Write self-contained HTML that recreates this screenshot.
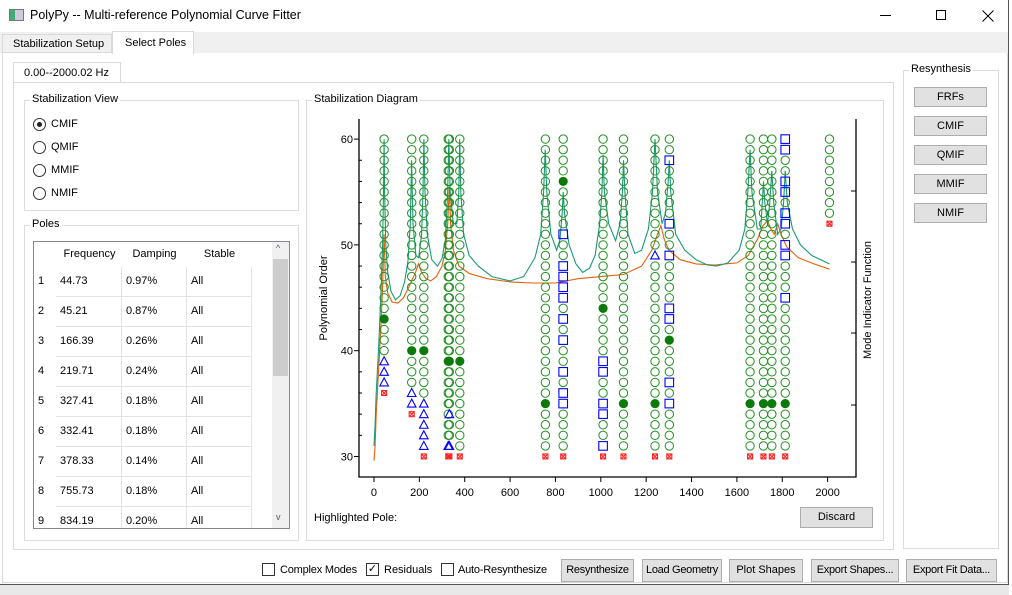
<!DOCTYPE html>
<html><head><meta charset="utf-8">
<style>
*{box-sizing:border-box}
body{margin:0;width:1012px;height:595px;overflow:hidden;background:#fff;font-family:"Liberation Sans",sans-serif;font-size:11px;color:#000;position:relative}
.a{position:absolute;white-space:nowrap}
.grp{position:absolute;border:1px solid #dcdcdc}
.gt{position:absolute;background:#fff;padding:0 2px;top:-8px;left:5px;font-size:11px}
.btn{position:absolute;background:#e1e1e1;border:1px solid #adadad;text-align:center;font-size:11px;line-height:19px;white-space:nowrap;overflow:hidden}
.rad{position:absolute;width:13px;height:13px;border:1px solid #333;border-radius:50%;background:#fff}
.chk{position:absolute;width:13px;height:13px;border:1px solid #333;background:#fff}
.cell{position:absolute;height:30px;line-height:29px;padding-left:4px;border-right:1px solid #e3e3e3;border-bottom:1px solid #e3e3e3}
</style></head><body>
<div class="a" style="left:0;top:0;width:1012px;height:32px;background:#fff">
 <div class="a" style="left:9px;top:9px;width:15px;height:12px;border:1px solid #777;background:linear-gradient(90deg,#4a7 0 40%,#ccd 40%)"></div>
 <div class="a" style="left:30px;top:8px;font-size:12.5px">PolyPy -- Multi-reference Polynomial Curve Fitter</div>
 <div class="a" style="left:880px;top:15px;width:11px;height:1px;background:#000"></div>
 <div class="a" style="left:936px;top:10px;width:10px;height:10px;border:1px solid #000"></div>
 <svg class="a" style="left:982px;top:10px" width="12" height="12"><path d="M0.5,0.5L11.5,11.5M11.5,0.5L0.5,11.5" stroke="#000" stroke-width="1"/></svg>
</div>
<div class="a" style="left:0;top:32px;width:1012px;height:21px;background:#f0f0f0"></div>
<div class="a" style="left:2px;top:34px;width:110px;height:19px;border:1px solid #d9d9d9;background:#f0f0f0;padding:3px 0 0 10px">Stabilization Setup</div>
<div class="a" style="left:112px;top:31px;width:82px;height:23px;border:1px solid #d9d9d9;border-bottom:none;background:#fff;padding:5px 0 0 12px">Select Poles</div>
<div class="a" style="left:2px;top:53px;width:1006px;height:530px;border:1px solid #d9d9d9;border-top:none"></div>
<div class="a" style="left:1008px;top:0;width:4px;height:595px;background:#fff;border-left:1px solid #555"></div>
<div class="a" style="left:0;top:584px;width:1009px;height:11px;background:#e8e8e8;border-top:1px solid #555"></div>
<div class="a" style="left:13px;top:62px;width:108px;height:21px;border:1px solid #d9d9d9;border-bottom:none;padding:4px 0 0 10px">0.00--2000.02 Hz</div>
<div class="a" style="left:13px;top:82px;width:881px;height:468px;border:1px solid #d9d9d9"></div>

<div class="grp" style="left:24px;top:100px;width:275px;height:111px"><span class="gt">Stabilization View</span></div>
<div class="rad" style="left:33px;top:118px"><div class="a" style="left:3px;top:3px;width:5px;height:5px;border-radius:50%;background:#222"></div></div>
<div class="a" style="left:51px;top:118px">CMIF</div>
<div class="rad" style="left:33px;top:141px"></div><div class="a" style="left:51px;top:141px">QMIF</div>
<div class="rad" style="left:33px;top:164px"></div><div class="a" style="left:51px;top:164px">MMIF</div>
<div class="rad" style="left:33px;top:187px"></div><div class="a" style="left:51px;top:187px">NMIF</div>

<div class="grp" style="left:24px;top:225px;width:275px;height:316px"><span class="gt">Poles</span></div>
<div class="a" style="left:33px;top:241px;width:257px;height:288px;border:1px solid #828790;overflow:hidden" id="tbl">
 <div class="a" style="left:23px;top:0;width:65px;height:25px;line-height:25px;text-align:center">Frequency</div>
 <div class="a" style="left:88px;top:0;width:65px;height:25px;line-height:25px;text-align:center">Damping</div>
 <div class="a" style="left:153px;top:0;width:65px;height:25px;line-height:25px;text-align:center">Stable</div>
 <div class="a" style="left:238px;top:0;width:17px;height:286px;background:#f0f0f0">
  <div class="a" style="left:4px;top:1px;font-size:9px;color:#555">^</div>
  <div class="a" style="left:1px;top:17px;width:15px;height:117px;background:#cdcdcd"></div>
  <div class="a" style="left:4px;top:270px;font-size:9px;color:#555">v</div>
 </div>
</div>
<script>
const rowsData=[["44.73","0.97%"],["45.21","0.87%"],["166.39","0.26%"],["219.71","0.24%"],["327.41","0.18%"],["332.41","0.18%"],["378.33","0.14%"],["755.73","0.18%"],["834.19","0.20%"]];
const tbl=document.getElementById('tbl');
rowsData.forEach((r,i)=>{
 const top=25+i*30;
 const h='<div class="a" style="left:4px;top:'+top+'px;line-height:29px">'+(i+1)+'</div>'+
 '<div class="cell" style="left:22px;top:'+top+'px;width:66px">'+r[0]+'</div>'+
 '<div class="cell" style="left:88px;top:'+top+'px;width:65px">'+r[1]+'</div>'+
 '<div class="cell" style="left:153px;top:'+top+'px;width:65px">All</div>';
 tbl.insertAdjacentHTML('beforeend',h);
});
</script>

<div class="grp" style="left:306px;top:100px;width:578px;height:441px"><span class="gt">Stabilization Diagram</span></div>
<div class="a" style="left:314px;top:512px">Highlighted Pole:</div>
<div class="btn" style="left:800px;top:507px;width:73px;height:21px">Discard</div>

<div class="grp" style="left:903px;top:70px;width:96px;height:479px"><span class="gt">Resynthesis</span></div>
<div class="btn" style="left:914px;top:87px;width:73px;height:20px">FRFs</div>
<div class="btn" style="left:914px;top:116px;width:73px;height:20px">CMIF</div>
<div class="btn" style="left:914px;top:145px;width:73px;height:20px">QMIF</div>
<div class="btn" style="left:914px;top:174px;width:73px;height:20px">MMIF</div>
<div class="btn" style="left:914px;top:203px;width:73px;height:20px">NMIF</div>

<div class="chk" style="left:262px;top:563px"></div><div class="a" style="left:280px;top:564px;letter-spacing:-0.2px">Complex Modes</div>
<div class="chk" style="left:366px;top:563px;font-size:11px;line-height:11px;text-align:center">✓</div><div class="a" style="left:384px;top:564px">Residuals</div>
<div class="chk" style="left:441px;top:563px"></div><div class="a" style="left:458px;top:564px;letter-spacing:-0.2px">Auto-Resynthesize</div>
<div class="btn" style="left:561px;top:559px;width:73px;height:23px;line-height:21px;letter-spacing:-0.3px">Resynthesize</div>
<div class="btn" style="left:642px;top:559px;width:80px;height:23px;line-height:21px;letter-spacing:-0.3px">Load Geometry</div>
<div class="btn" style="left:729px;top:559px;width:74px;height:23px;line-height:21px">Plot Shapes</div>
<div class="btn" style="left:811px;top:559px;width:88px;height:23px;line-height:21px;letter-spacing:-0.3px">Export Shapes...</div>
<div class="btn" style="left:906px;top:559px;width:91px;height:23px;line-height:21px;letter-spacing:-0.3px">Export Fit Data...</div>

<svg id="chart" class="a" style="left:0;top:0;pointer-events:none" width="1012" height="595"></svg>
<script>
const poleFreqs=[44.73,166.39,219.71,327.41,332.41,378.33,755.73,834.19,1010,1100,1239,1302,1658,1717,1754,1813,2008];
// marker codes for orders 30..60: x=unstable, t=freq-stable, s=damping-stable, o=stable, f=selected, .=none
const poleMarkers=[
"......"+"x"+"ttt"+"ooo"+"f"+"ooooooooooooooooo",
"...."+"x"+"tt"+"ooo"+"f"+"oooooooooooooooooooo",
"x"+"ttttt"+"oooo"+"f"+"oooooooooooooooooooo",
"x"+"t"+"ooooooo"+"f"+"ooooooooooooooooooooo",
"x"+"t"+"oo"+"t"+"oooo"+"f"+"ooooooooooooooooooooo",
"x"+"oooooooo"+"f"+"ooooooooooooooooooooo",
"x"+"oooo"+"f"+"ooooooooooooooooooooooooo",
"x"+"oooo"+"ss"+"o"+"s"+"oo"+"s"+"o"+"s"+"o"+"ssss"+"oo"+"s"+"oooo"+"f"+"oooo",
"x"+"s"+"oo"+"ss"+"oo"+"ss"+"oooo"+"f"+"oooooooooooooooo",
"x"+"oooo"+"f"+"ooooooooooooooooooooooooo",
"x"+"oooo"+"f"+"ooooooooooooo"+"t"+"ooooooooooo",
"x"+"oooo"+"s"+"o"+"s"+"ooo"+"f"+"o"+"ss"+"oooo"+"s"+"oo"+"s"+"ooooo"+"s"+"oo",
"x"+"oooo"+"f"+"ooooooooooooooooooooooooo",
"x"+"oooo"+"f"+"ooooooooooooooooooooooooo",
"x"+"oooo"+"f"+"ooooooooooooooooooooooooo",
"x"+"oooo"+"f"+"ooooooooo"+"s"+"ooo"+"ss"+"o"+"ss"+"o"+"ss"+"oo"+"ss",
"......................"+"x"+"oooooooo"
];
const cmifFreq=[0,5,10,20,30,38,42,44.7,47,52,60,75,95,115,135,150,160,166,172,185,197,210,216,220,225,235,255,280,300,315,325,330,336,350,365,374,378,383,395,420,460,520,600,660,710,735,748,755,762,780,805,820,830,834,840,860,890,920,950,975,995,1005,1010,1016,1035,1065,1085,1095,1100,1106,1120,1150,1180,1210,1228,1239,1250,1270,1285,1297,1302,1308,1330,1370,1420,1470,1510,1560,1610,1635,1648,1658,1666,1690,1705,1712,1717,1723,1735,1745,1754,1762,1780,1795,1806,1813,1822,1845,1880,1930,1970,2008];
const cmifVals=[31,33,36,40,45,50,55,60,55,50,47.5,45.6,44.8,45.2,46.5,48.5,52,58,52,49,48.8,51,55,60,55,51,48.6,48,48.7,50.5,55,60,55,52,52,55,60,55,51,49,48,47,46.6,47,48.8,51,55,59,55,51,49.5,50.5,53,55,53,50,48.2,47.4,47.8,49,52,55,58.5,55,52,50.4,52,55,58,55,51,49.2,49.5,51.5,55,60,55,52,53,56,58,55,51,49.5,48.6,48.1,48,48.3,49.5,51.5,55,59,55,51.5,51.5,54,56,54,52,54,57,54,51,51.5,54,57,54,51.5,50,49,48.6,48.2];
const qmifFreq=[0,5,10,20,30,38,44.7,50,60,80,105,130,160,185,196,210,230,250,275,300,315,325,332,338,350,375,420,500,600,700,800,900,1000,1100,1180,1225,1250,1265,1280,1300,1350,1420,1500,1600,1650,1690,1715,1735,1750,1765,1780,1795,1820,1870,1940,2008];
const qmifVals=[29.6,31,34,38,42,46,51,47,45.5,44.6,44.5,45,46.3,47.5,48.2,47.4,46.8,46.6,47,48,49.5,52,55.5,52,49.5,48,47.3,46.8,46.5,46.4,46.4,46.8,47,47.2,48,49.5,51,51.8,50.5,49.5,48.6,48.2,48.1,48.3,49,50.5,51.8,52.3,51.5,51,52,51,49.8,48.8,48.2,47.7];
const xTicks=[0,200,400,600,800,1000,1200,1400,1600,1800,2000];
const yTicks=[30,40,50,60];

const NS='http://www.w3.org/2000/svg',svg=document.getElementById('chart');
const L=359,R=856,T=119,B=477;
const xMin=-66,xMax=2125,yMin=28.06,yMax=61.9;
const X=v=>L+(v-xMin)/(xMax-xMin)*(R-L);
const Y=v=>B-(v-yMin)/(yMax-yMin)*(B-T);
function mk(tag,at){const e=document.createElementNS(NS,tag);for(const k in at)e.setAttribute(k,at[k]);svg.appendChild(e);return e;}
function curve(fs,vs,color,name){
 const p=mk('polyline',{points:fs.map((f,i)=>X(f).toFixed(1)+','+Y(vs[i]).toFixed(1)).join(' '),fill:'none',stroke:color,'stroke-width':1.1});
 
 
}
curve(qmifFreq,qmifVals,'#e0620a','mif-curve-secondary');
curve(cmifFreq,cmifVals,'#1a9878','mif-curve-primary');
poleFreqs.forEach((f,ci)=>{
 const s=poleMarkers[ci];const cx=X(f);
 for(let i=0;i<s.length;i++){
  const c=s[i],cy=Y(30+i);let e;
  if(c==='o')e=mk('circle',{cx,cy,r:4.2,fill:'none',stroke:'#1f8f1f','stroke-width':1});
  else if(c==='f')e=mk('circle',{cx,cy,r:4.6,fill:'#0b7a0b'});
  else if(c==='s')e=mk('rect',{x:cx-4.3,y:cy-4.3,width:8.6,height:8.6,fill:'none',stroke:'#0000ff','stroke-width':1.1});
  else if(c==='t')e=mk('polygon',{points:`${cx},${cy-4.5} ${cx-4.3},${cy+3.5} ${cx+4.3},${cy+3.5}`,fill:'none',stroke:'#0000ff','stroke-width':1.1});
  else if(c==='x'){e=mk('path',{d:`M${cx-2.5},${cy-2.5}h5v5h-5zM${cx-2.5},${cy-2.5}l5,5M${cx+2.5},${cy-2.5}l-5,5`,fill:'none',stroke:'#ff2020','stroke-width':1.1});}
  if(e){
   }
 }
});
mk('path',{d:`M${L},${T}V${B}H${R}V${T}`,fill:'none',stroke:'#000','stroke-width':1.3});
xTicks.forEach(t=>{const x=X(t);mk('line',{x1:x,y1:B,x2:x,y2:B+5,stroke:'#000'});
 const tx=mk('text',{x:x,y:B+19,'text-anchor':'middle','font-size':11,'font-family':'Liberation Sans, sans-serif'});tx.textContent=t;
 
 });
yTicks.forEach(t=>{const y=Y(t);mk('line',{x1:L-5,y1:y,x2:L,y2:y,stroke:'#000'});
 const tx=mk('text',{x:L-6,y:y+4,'text-anchor':'end','font-size':11,'font-family':'Liberation Sans, sans-serif'});tx.textContent=t;
 
 });
for(let v=30;v<=60;v+=2){if(v%10)mk('line',{x1:L,y1:Y(v),x2:L+3,y2:Y(v),stroke:'#000'});}
[191,262,333,405].forEach(py=>mk('line',{x1:R-5,y1:py,x2:R,y2:py,stroke:'#000'}));
const yl=mk('text',{transform:`translate(327,298) rotate(-90)`,'text-anchor':'middle','font-size':11,'font-family':'Liberation Sans, sans-serif'});yl.textContent='Polynomial Order';


const yr=mk('text',{transform:`translate(871,300) rotate(-90)`,'text-anchor':'middle','font-size':11,'font-family':'Liberation Sans, sans-serif'});yr.textContent='Mode Indicator Function';


</script>
</body></html>
